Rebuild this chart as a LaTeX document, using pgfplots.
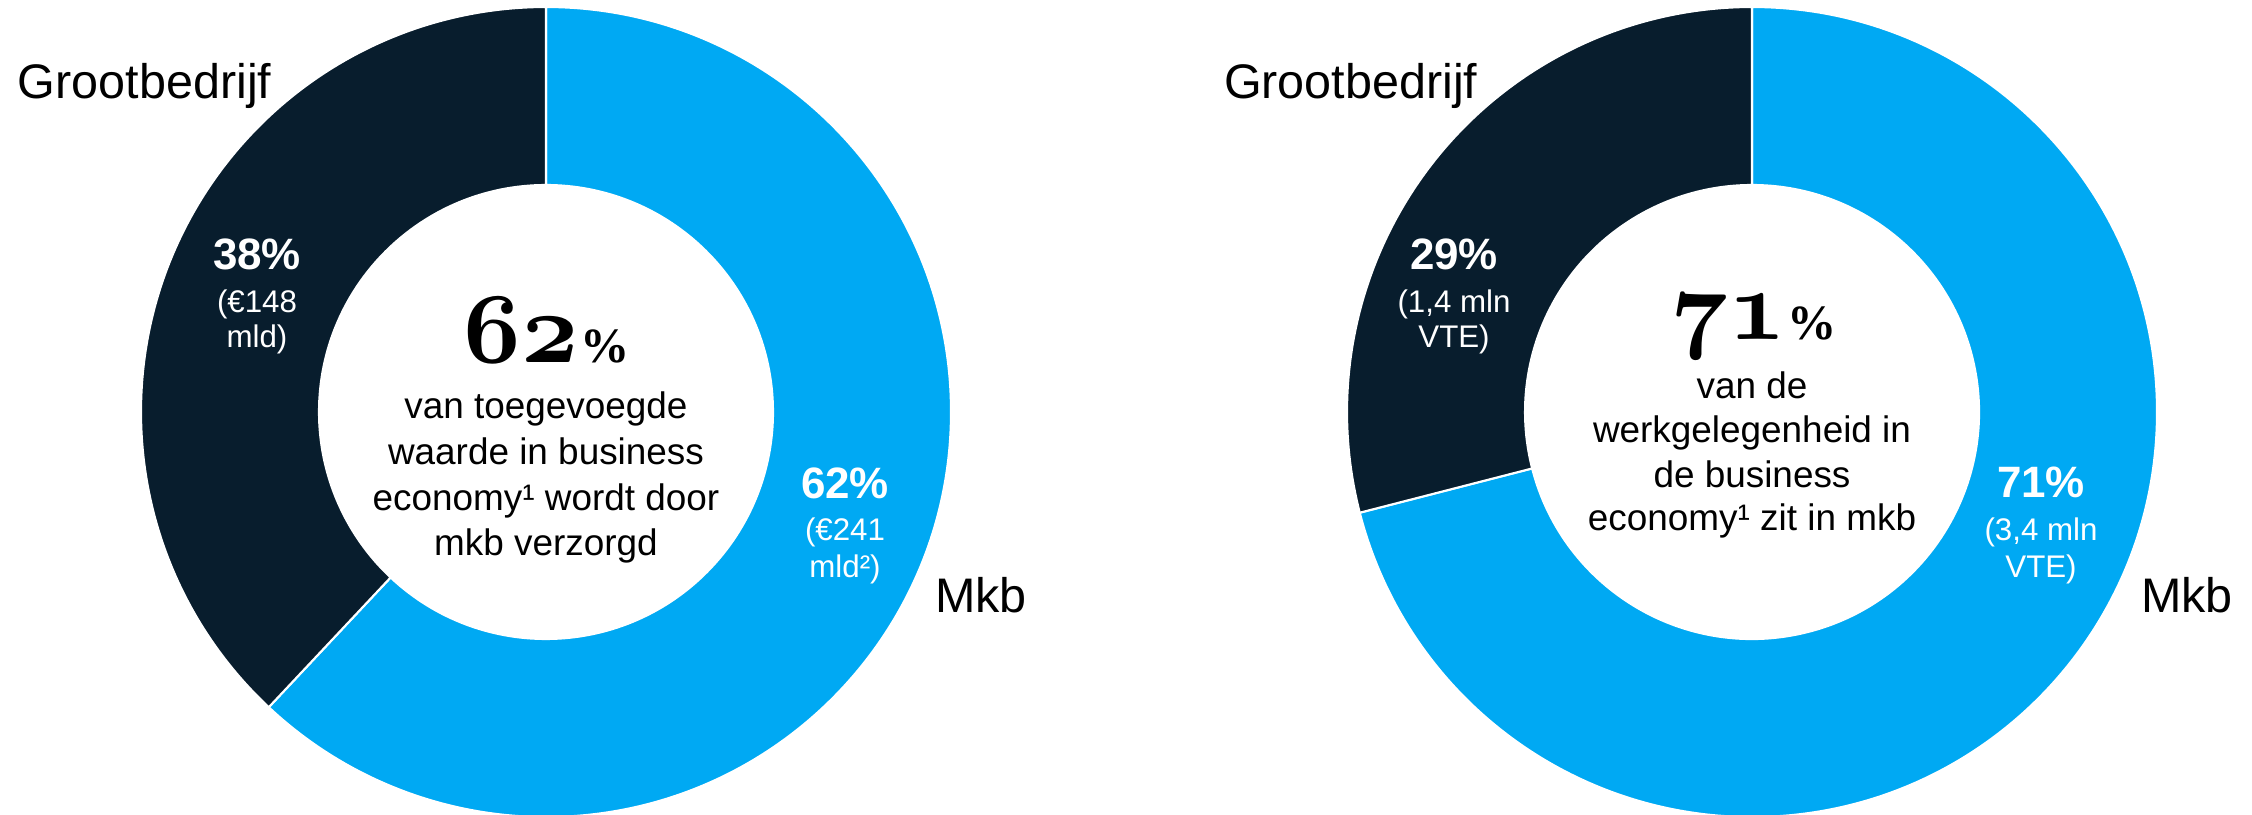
\documentclass[border=0pt]{standalone}
\usepackage{fix-cm}
\usepackage{pgfplots}
\pgfplotsset{compat=1.18}
\usepackage{fontspec}
\setmainfont{Liberation Sans}
\newfontfamily\serifnum{Liberation Serif}
\definecolor{mkb}{HTML}{00A9F3}
\definecolor{groot}{HTML}{081D2D}

% one ring segment: centre, start angle, end angle, colour
\newcommand\ring[4]{%
  \fill[#4, draw=white, line width=0.6pt]
    ([shift={({#2}:4.05cm)}]#1) arc[start angle={#2}, end angle={#3}, radius=4.05cm]
    -- ([shift={({#3}:2.27cm)}]#1) arc[start angle={#3}, end angle={#2}, radius=2.27cm] -- cycle;}
% donut: centre, share mkb (clockwise from top), share grootbedrijf
\newcommand\donut[3]{%
  \ring{#1}{90}{90-#2*3.6}{mkb}
  \ring{#1}{90+#3*3.6}{90}{groot}}

\newcommand\lab{\fontsize{13.8}{16}\selectfont}
\newcommand\pct{\fontsize{12.5}{15}\selectfont\bfseries}
\newcommand\sub{\fontsize{8.9}{10}\selectfont}
\newcommand\ctr{\fontsize{10.5}{12.8}\selectfont}
\newcommand\hugenum[1]{{\fontsize{28.5}{30}\usefont{OML}{cmm}{b}{it}#1}\kern0.5pt{\serifnum\bfseries\fontsize{14}{15}\selectfont\%}}

\tikzset{
  t/.style={inner sep=0pt, outer sep=0pt, anchor=base},
  side/.style={inner sep=0pt, outer sep=0pt, anchor=base west, font=\lab},
  w/.style={t, text=white},
}

\begin{document}
\begin{tikzpicture}
\begin{axis}[
  width=22.52cm, height=8.14cm, scale only axis, hide axis,
  xmin=0, xmax=2252, ymin=0, ymax=814, y dir=reverse, clip=false,
]
\coordinate (L) at (axis cs:546,412);
\coordinate (R) at (axis cs:1752,412);
\donut{L}{62}{38}
\donut{R}{71}{29}

% left: toegevoegde waarde
\node[side] at (axis cs:18,99) {Grootbedrijf};
\node[side] at (axis cs:935,612) {Mkb};
\node[w, font=\pct] at (axis cs:257,270) {38\%};
\node[w, font=\sub] at (axis cs:257,313) {(€148};
\node[w, font=\sub] at (axis cs:257,348) {mld)};
\node[w, font=\pct] at (axis cs:845,498) {62\%};
\node[w, font=\sub] at (axis cs:845,540) {(€241};
\node[w, font=\sub] at (axis cs:845,577) {mld²)};
\node[t] at (axis cs:547,363) {\hugenum{62}};
\node[t, font=\ctr] at (axis cs:546,419) {van toegevoegde};
\node[t, font=\ctr] at (axis cs:546,464) {waarde in business};
\node[t, font=\ctr] at (axis cs:546,510) {economy¹ wordt door};
\node[t, font=\ctr] at (axis cs:546,555) {mkb verzorgd};

% right: werkgelegenheid
\node[side] at (axis cs:1224,99) {Grootbedrijf};
\node[side] at (axis cs:2141,612) {Mkb};
\node[w, font=\pct] at (axis cs:1454,270) {29\%};
\node[w, font=\sub] at (axis cs:1454,313) {(1,4 mln};
\node[w, font=\sub] at (axis cs:1454,348) {VTE)};
\node[w, font=\pct] at (axis cs:2041,497) {71\%};
\node[w, font=\sub] at (axis cs:2041,540) {(3,4 mln};
\node[w, font=\sub] at (axis cs:2041,577) {VTE)};
\node[t] at (axis cs:1754,340) {\hugenum{71}};
\node[t, font=\ctr] at (axis cs:1752,398) {van de};
\node[t, font=\ctr] at (axis cs:1752,442) {werkgelegenheid in};
\node[t, font=\ctr] at (axis cs:1752,487) {de business};
\node[t, font=\ctr] at (axis cs:1752,530) {economy¹ zit in mkb};
\end{axis}
\pgfresetboundingbox
\useasboundingbox (0,0) rectangle (22.52,8.14);
\end{tikzpicture}
\end{document}
